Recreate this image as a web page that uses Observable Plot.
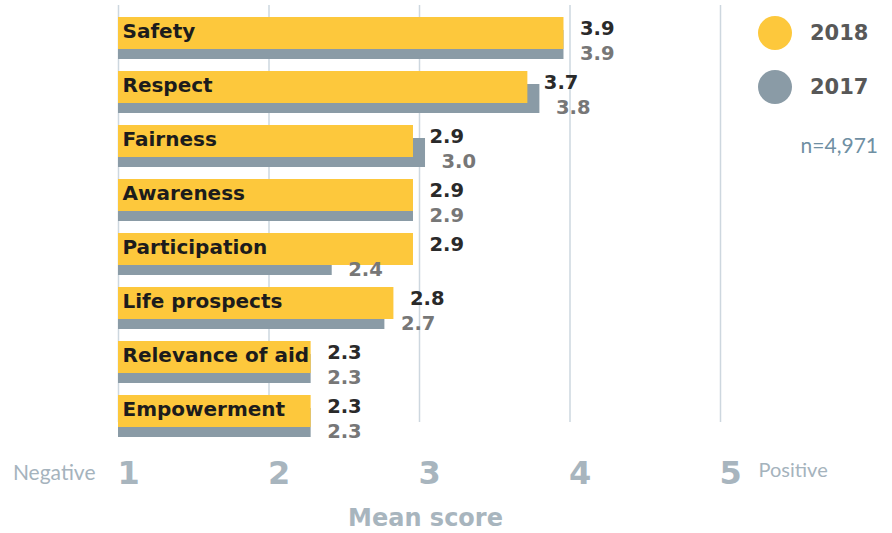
<!DOCTYPE html>
<html>
<head>
<meta charset="utf-8">
<script src="https://cdn.jsdelivr.net/npm/d3@7"></script>
<script src="https://cdn.jsdelivr.net/npm/@observablehq/plot@0.6"></script>
<style>
  body { margin: 0; background: #fff; }
  #wrap { position: relative; width: 892px; height: 533px; overflow: hidden; }
  .dot { position: absolute; width: 34px; height: 34px; border-radius: 50%; }
  .yr { position: absolute; font-family: "DejaVu Sans", sans-serif; font-weight: bold; font-size: 21px; line-height: 24px; color: #585858; }
  .n { position: absolute; font-family: Lato, "Noto Sans", sans-serif; font-size: 21px; line-height: 24px; color: #6F8FA3; }
</style>
</head>
<body>
<div id="wrap"></div>
<script>
const categories = ["Safety", "Respect", "Fairness", "Awareness", "Participation", "Life prospects", "Relevance of aid", "Empowerment"];
const score2018 = [3.96, 3.72, 2.96, 2.96, 2.96, 2.83, 2.28, 2.28];
const score2017 = [3.96, 3.80, 3.04, 2.96, 2.42, 2.77, 2.28, 2.28];
const label2018 = ["3.9", "3.7", "2.9", "2.9", "2.9", "2.8", "2.3", "2.3"];
const label2017 = ["3.9", "3.8", "3.0", "2.9", "2.4", "2.7", "2.3", "2.3"];
const ticks = [1, 2, 3, 4, 5];
const years = ["2018", "2017"];
const sampleNote = "n=4,971";

const colors = { "2018": "#FDC83C", "2017": "#8A9BA6" };

const rows = categories.map((c, i) => ({
  category: c, v18: score2018[i], v17: score2017[i], l18: label2018[i], l17: label2017[i]
}));

const bold = "DejaVu Sans";
const light = "Lato";

const plot = Plot.plot({
  width: 892,
  height: 533,
  marginLeft: 118,
  marginRight: 172,
  marginTop: 5,
  marginBottom: 111,
  style: { background: "white", overflow: "visible" },
  x: { domain: [1, 5], axis: null },
  y: { domain: categories, range: [6, 438], padding: 0, axis: null },
  marks: [
    Plot.ruleX(ticks, { x: d => d, stroke: "#CDD7DF", strokeWidth: 1.5 }),
    Plot.barX(rows, { x1: 1, x2: "v17", y: "category", fill: colors["2017"], insetTop: 24, insetBottom: 1 }),
    Plot.barX(rows, { x1: 1, x2: "v18", y: "category", fill: colors["2018"], insetTop: 11, insetBottom: 11 }),
    Plot.text(rows, { x: 1, y: "category", text: "category", dx: 4, dy: -2, textAnchor: "start",
      fill: "#1c1c1c", fontSize: 20, fontWeight: "bold", fontFamily: bold }),
    Plot.text(rows, { x: "v18", y: "category", text: "l18", dx: 16, dy: -5, textAnchor: "start",
      fill: "#2a2a2a", fontSize: 19.5, fontWeight: "bold", fontFamily: bold }),
    Plot.text(rows, { x: "v17", y: "category", text: "l17", dx: 16, dy: 20, textAnchor: "start",
      fill: "#777777", fontSize: 19.5, fontWeight: "bold", fontFamily: bold }),
    Plot.text(ticks, { x: d => d, frameAnchor: "bottom", lineAnchor: "middle", dy: 51, dx: 10, text: d => String(d),
      fill: "#A8B5BE", fontSize: 32, fontWeight: "bold", fontFamily: bold }),
    Plot.text(["Negative"], { x: 1, frameAnchor: "bottom", lineAnchor: "middle", dy: 51, dx: -23, text: d => d, textAnchor: "end",
      fill: "#A5B3BD", fontSize: 21, fontFamily: light }),
    Plot.text(["Positive"], { x: 5, frameAnchor: "bottom", lineAnchor: "middle", dy: 48, dx: 38, text: d => d, textAnchor: "start",
      fill: "#A5B3BD", fontSize: 20, fontFamily: light }),
    Plot.text(["Mean score"], { frameAnchor: "bottom", lineAnchor: "middle", dy: 96, dx: 6, text: d => d,
      fill: "#A8B5BE", fontSize: 24, fontWeight: "bold", fontFamily: bold })
  ]
});

const wrap = document.getElementById("wrap");
wrap.appendChild(plot);

// legend
years.forEach((y, i) => {
  const cy = 33 + i * 54;
  const dot = document.createElement("div");
  dot.className = "dot";
  dot.style.left = (775 - 17) + "px";
  dot.style.top = (cy - 17) + "px";
  dot.style.background = colors[y];
  wrap.appendChild(dot);
  const t = document.createElement("div");
  t.className = "yr";
  t.style.left = "810px";
  t.style.top = (cy - 12) + "px";
  t.textContent = y;
  wrap.appendChild(t);
});
const n = document.createElement("div");
n.className = "n";
n.style.right = (892 - 878) + "px";
n.style.top = (145 - 12) + "px";
n.textContent = sampleNote;
wrap.appendChild(n);
</script>
</body>
</html>
